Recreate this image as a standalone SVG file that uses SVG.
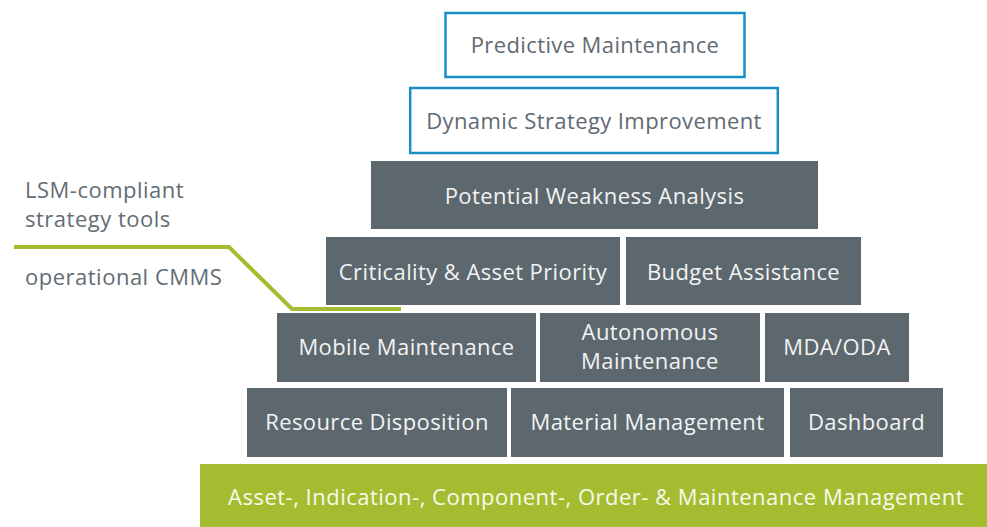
<svg xmlns="http://www.w3.org/2000/svg" width="987" height="527" viewBox="0 0 987 527">
  <style>
    .txt { font-family: "Open Sans", "Liberation Sans", sans-serif; font-size: 22px; letter-spacing: 0.4px; }
    .outline rect { fill: #ffffff; stroke: #1b8ec7; stroke-width: 2.5; }
    .outline text { fill: #5f6a72; text-anchor: middle; }
    .solid rect { fill: #5d676e; }
    .solid text { fill: #f2f3f3; text-anchor: middle; }
    .base rect { fill: #a4bd30; }
    .base text { fill: #f7f9ec; text-anchor: middle; letter-spacing: 0.5px; }
    .side { fill: #636d74; letter-spacing: 0.5px; }
    .divider { fill: none; stroke: #a3bd2e; stroke-width: 4; stroke-linejoin: miter; }
  </style>

  <rect width="987" height="527" fill="#ffffff"/>

  <!-- side labels -->
  <g id="labels" class="txt side">
    <text x="25" y="198">LSM-compliant</text>
    <text x="25" y="227">strategy tools</text>
    <text x="25" y="285">operational CMMS</text>
  </g>

  <!-- divider line between strategy tools and CMMS -->
  <g id="connectors">
    <path class="divider" d="M14 247 H229 L292 309 H401"/>
  </g>

  <!-- top tier: strategy tools (outlined) -->
  <g id="predictive-maintenance" class="txt outline">
    <rect x="445.5" y="13" width="299" height="64"/>
    <text x="595" y="53">Predictive Maintenance</text>
  </g>
  <g id="dynamic-strategy-improvement" class="txt outline">
    <rect x="410.2" y="88" width="367.6" height="65"/>
    <text x="594" y="129">Dynamic Strategy Improvement</text>
  </g>

  <!-- strategy tools (solid) -->
  <g id="potential-weakness-analysis" class="txt solid">
    <rect x="371" y="161" width="447" height="68"/>
    <text x="594.5" y="204">Potential Weakness Analysis</text>
  </g>
  <g id="criticality-asset-priority" class="txt solid">
    <rect x="326" y="237" width="294" height="68"/>
    <text x="473" y="280">Criticality &amp; Asset Priority</text>
  </g>
  <g id="budget-assistance" class="txt solid">
    <rect x="626" y="237" width="235" height="68"/>
    <text x="743.5" y="280">Budget Assistance</text>
  </g>

  <!-- operational CMMS -->
  <g id="mobile-maintenance" class="txt solid">
    <rect x="277" y="313" width="259" height="69"/>
    <text x="406.5" y="355">Mobile Maintenance</text>
  </g>
  <g id="autonomous-maintenance" class="txt solid">
    <rect x="540" y="313" width="220" height="69"/>
    <text x="650" y="340">Autonomous</text>
    <text x="650" y="369">Maintenance</text>
  </g>
  <g id="mda-oda" class="txt solid">
    <rect x="765" y="313" width="144" height="69"/>
    <text x="837" y="355">MDA/ODA</text>
  </g>

  <g id="resource-disposition" class="txt solid">
    <rect x="247" y="388" width="260" height="69"/>
    <text x="377" y="430">Resource Disposition</text>
  </g>
  <g id="material-management" class="txt solid">
    <rect x="511" y="388" width="273" height="69"/>
    <text x="647.5" y="430">Material Management</text>
  </g>
  <g id="dashboard" class="txt solid">
    <rect x="790" y="388" width="153" height="69"/>
    <text x="866.5" y="430">Dashboard</text>
  </g>

  <!-- foundation -->
  <g id="core-management" class="txt base">
    <rect x="200" y="464" width="787" height="63"/>
    <text x="596" y="505">Asset-, Indication-, Component-, Order- &amp; Maintenance Management</text>
  </g>
</svg>
